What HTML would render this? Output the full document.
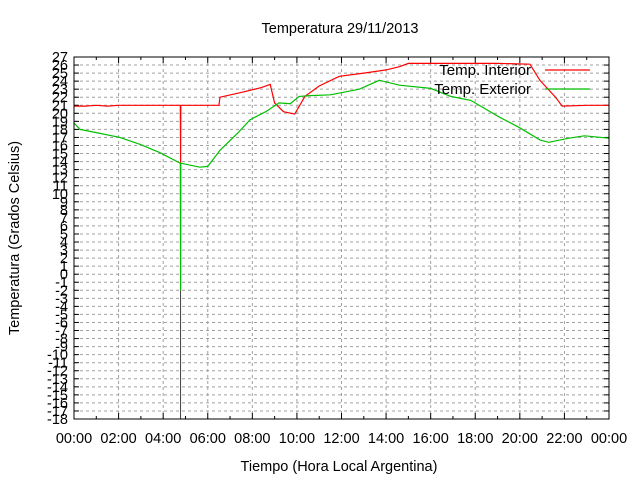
<!DOCTYPE html>
<html><head><meta charset="utf-8"><style>
html,body{margin:0;padding:0;background:#fff;}
svg{display:block;font-family:"Liberation Sans",sans-serif;}
</style></head><body>
<svg id="chart" width="640" height="480"></svg>
<script>
const hoursInt = [0,0.5,1,1.5,2,3,4,4.77,4.78,4.79,5.5,6.5,6.55,7.5,8.4,8.8,9.0,9.4,9.9,10.36,11.0,11.9,13,14.0,14.6,15.0,17,19,20.45,20.9,21.6,21.9,23,24];
const valsInt  = [20.9,20.9,21,20.9,21,21,21,21,13.8,21,21,21,22,22.6,23.2,23.6,21.3,20.2,19.9,22.1,23.4,24.6,25.0,25.4,25.8,26.2,26.2,26.2,26.1,24.1,22.0,20.9,21,21];
const hoursExt = [0,0.27,1,2.06,3,3.86,4.77,4.78,4.79,5.65,6,6.55,7.4,7.9,8.6,9.2,9.7,10.1,10.6,11.5,12.8,13.7,14.6,16,16.9,17.8,19.1,20,20.9,21.3,22.2,22.9,24];
const valsExt  = [18.8,18.0,17.6,17,16.1,15.1,13.8,-2,13.8,13.3,13.4,15.4,17.7,19.2,20.2,21.3,21.2,22.1,22.2,22.3,23,24.1,23.5,23.1,22.1,21.6,19.5,18.2,16.7,16.4,16.9,17.2,16.9];
const xTickLabels = ["00:00","02:00","04:00","06:00","08:00","10:00","12:00","14:00","16:00","18:00","20:00","22:00","00:00"];
const yMin=-18, yMax=27;
const L=74,R=609,T=57,B=419;
const X=h=>L+(R-L)*h/24;
const Y=v=>T+(B-T)*(yMax-v)/(yMax-yMin);
const svg=document.getElementById('chart');
const NS='http://www.w3.org/2000/svg';
function mk(tag,attrs,parent){const e=document.createElementNS(NS,tag);for(const k in attrs)e.setAttribute(k,attrs[k]);(parent||svg).appendChild(e);return e;}
for(let v=yMin+1;v<yMax;v++){
  const g=mk('line',{x1:L,x2:R,y1:Y(v),y2:Y(v),stroke:'#a0a0a0','stroke-dasharray':'3,3','stroke-width':1});
  
  
}
for(let i=1;i<12;i++){
  const g=mk('line',{x1:X(i*2),x2:X(i*2),y1:T,y2:B,stroke:'#a0a0a0','stroke-dasharray':'3,3','stroke-width':1});
  
  
}
for(let v=yMin;v<=yMax;v++){
  const t=mk('line',{x1:L,x2:L+5,y1:Y(v),y2:Y(v),stroke:'#000'});
  
  
  const t2=mk('line',{x1:R-5,x2:R,y1:Y(v),y2:Y(v),stroke:'#000'});
  
  
  const tx=mk('text',{x:68,y:Y(v)+5,'text-anchor':'end','font-size':14.5,fill:'#000'});
  tx.textContent=v;
  
  
}
for(let h=0;h<=24;h++){
  const len=h%2===0?6:3;
  const t=mk('line',{x1:X(h),x2:X(h),y1:B,y2:B-len,stroke:'#000'});
  
  
  const t2=mk('line',{x1:X(h),x2:X(h),y1:T,y2:T+len,stroke:'#000'});
  
  
}
xTickLabels.forEach((s,i)=>{
  const tx=mk('text',{x:X(i*2),y:443,'text-anchor':'middle','font-size':14.5,fill:'#000'});
  tx.textContent=s;
  
  
});
const tail=mk('line',{x1:X(4.78),x2:X(4.78),y1:Y(-2),y2:B,stroke:'#404040','stroke-width':1});


function path(hs,vs){return hs.map((h,i)=>(i?'L':'M')+X(h).toFixed(1)+','+Y(vs[i]).toFixed(1)).join(' ');}
const pi=mk('path',{d:path(hoursInt,valsInt),fill:'none',stroke:'#ff0000','stroke-width':1.2});


const pe=mk('path',{d:path(hoursExt,valsExt),fill:'none',stroke:'#00c000','stroke-width':1.2});


const fr=mk('rect',{x:L,y:T,width:R-L,height:B-T,fill:'none',stroke:'#000','stroke-width':1});


const l1=mk('text',{x:531,y:75,'text-anchor':'end','font-size':15,fill:'#000'});
l1.textContent='Temp. Interior';


const ll1=mk('line',{x1:545,x2:590,y1:70,y2:70,stroke:'#ff0000','stroke-width':1.2});


const l2=mk('text',{x:531,y:94,'text-anchor':'end','font-size':15,fill:'#000'});
l2.textContent='Temp. Exterior';


const ll2=mk('line',{x1:545,x2:590,y1:89,y2:89,stroke:'#00c000','stroke-width':1.2});


const ti=mk('text',{x:340,y:33,'text-anchor':'middle','font-size':14.5,fill:'#000'});
ti.textContent='Temperatura 29/11/2013';


const xt=mk('text',{x:339,y:471,'text-anchor':'middle','font-size':14.5,fill:'#000'});
xt.textContent='Tiempo (Hora Local Argentina)';


const yt=mk('text',{x:0,y:0,'text-anchor':'middle','font-size':14.5,fill:'#000',transform:'translate(19,238) rotate(-90)'});
yt.textContent='Temperatura (Grados Celsius)';


</script>
</body></html>
